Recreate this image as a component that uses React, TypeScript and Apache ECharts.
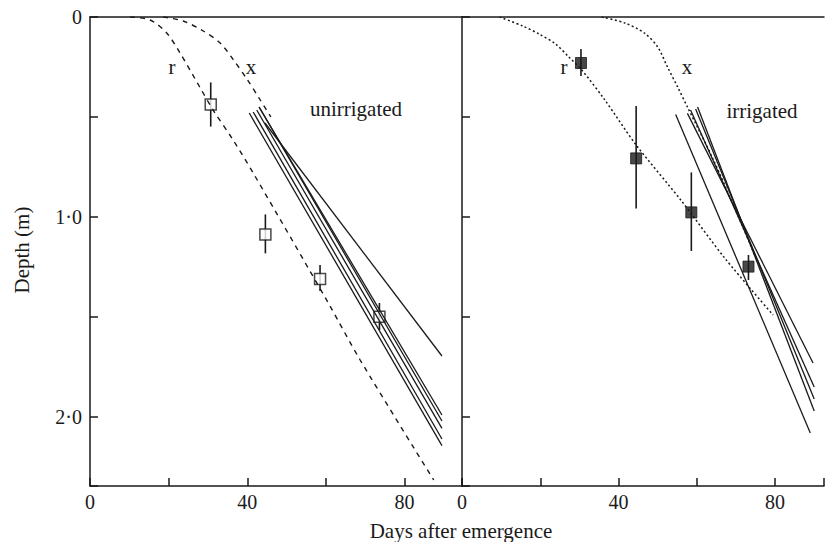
import React, { useEffect, useRef } from 'react';
import * as echarts from 'echarts';

const FONT = '"Liberation Serif", "DejaVu Serif", serif';
const INK = '#1a1a1a';

// tick labels
const xLabelled = [0, 40, 80];
const yLabels: Record<string, string> = { '0': '0', '1': '1·0', '2': '2·0' };

// Unirrigated panel (days after emergence, depth m)
const uRootCurve = [[10.2, 0], [15.3, 0.015], [19.5, 0.08], [22.9, 0.18], [27.9, 0.35], [31.3, 0.465], [36.4, 0.615], [41.5, 0.78], [60.6, 1.43], [68.7, 1.715], [87.4, 2.315]];
const uXCurve = [[18.6, 0], [23.7, 0.02], [28.8, 0.07], [33.1, 0.13], [36.5, 0.215], [39.9, 0.31], [43.3, 0.415], [46, 0.5]];
const uDays = [30.7, 44.6, 58.5, 73.6];
const uDepth = [0.437, 1.087, 1.31, 1.499];
const uLow = [0.327, 0.987, 1.24, 1.43];
const uHigh = [0.548, 1.182, 1.37, 1.565];
const uLines = [
  [[40.5, 0.48], [89.5, 2.143]],
  [[41.5, 0.475], [89.5, 2.11]],
  [[42.4, 0.465], [89.5, 2.057]],
  [[43.0, 0.45], [89.5, 2.02]],
  [[43.0, 0.45], [89.5, 1.99]],
  [[44.5, 0.53], [89.5, 1.695]],
];

// Irrigated panel
const iRootCurve = [[9.6, 0], [15.5, 0.045], [19.7, 0.085], [23.9, 0.135], [27.3, 0.2], [30.6, 0.265], [36.5, 0.415], [44.5, 0.64], [55.9, 0.915], [67.2, 1.207], [79.5, 1.49]];
const iXCurve = [[35.7, 0], [41.6, 0.03], [46.6, 0.08], [50, 0.15], [52.5, 0.25], [55.1, 0.35], [57.6, 0.45], [63.9, 0.7], [71, 1.015], [75, 1.2]];
const iDays = [30.4, 44.5, 58.6, 73.2];
const iDepth = [0.23, 0.707, 0.977, 1.248];
const iLow = [0.16, 0.445, 0.777, 1.19];
const iHigh = [0.295, 0.957, 1.17, 1.315];
const iLines = [
  [[54.6, 0.487], [89, 2.08]],
  [[57.6, 0.482], [89.7, 1.73]],
  [[58.4, 0.465], [90, 1.85]],
  [[59.7, 0.46], [90, 1.91]],
  [[60.2, 0.45], [90, 1.97]],
];

const LEFT_MAX = 94.6;
const RIGHT_MAX = 92.5;
const Y_MAX = 2.345;

function xAxisBottom(gridIndex: number, max: number) {
  return {
    type: 'value', gridIndex, min: 0, max, interval: 20, position: 'bottom',
    axisLine: { show: true, onZero: false, lineStyle: { color: INK, width: 1.5 } },
    axisTick: { show: true, inside: true, length: 8, lineStyle: { color: INK, width: 1.5 } },
    axisLabel: {
      show: true, margin: 6, color: INK, fontFamily: FONT, fontSize: 20,
      formatter: (v: number) => (xLabelled.includes(v) ? String(v) : ''),
    },
    splitLine: { show: false },
  };
}
function xAxisTop(gridIndex: number, max: number) {
  return {
    type: 'value', gridIndex, min: 0, max, position: 'top',
    axisLine: { show: true, onZero: false, lineStyle: { color: INK, width: 1.5 } },
    axisTick: { show: false }, axisLabel: { show: false }, splitLine: { show: false },
  };
}
function yAxis(gridIndex: number, labels: boolean) {
  return {
    type: 'value', gridIndex, min: 0, max: Y_MAX, interval: 0.5, inverse: true,
    axisLine: { show: true, onZero: false, lineStyle: { color: INK, width: 1.5 } },
    axisTick: { show: true, inside: true, length: 8, lineStyle: { color: INK, width: 1.5 } },
    axisLabel: {
      show: labels, margin: 8, color: INK, fontFamily: FONT, fontSize: 20,
      formatter: (v: number) => yLabels[String(v)] ?? '',
    },
    splitLine: { show: false },
  };
}

function errorSeries(axisIdx: number, days: number[], low: number[], high: number[]) {
  return {
    type: 'custom', xAxisIndex: axisIdx * 2, yAxisIndex: axisIdx, z: 2,
    data: days.map((d, i) => [d, low[i], high[i]]),
    encode: { x: 0, y: [1, 2] },
    renderItem: (_p: any, api: any) => {
      const a = api.coord([api.value(0), api.value(1)]);
      const b = api.coord([api.value(0), api.value(2)]);
      return { type: 'line', shape: { x1: a[0], y1: a[1], x2: b[0], y2: b[1] }, style: { stroke: INK, lineWidth: 1.6 } };
    },
  };
}

function lineSeries(axisIdx: number, data: number[][], type: any, smooth: number | boolean, width = 1.4) {
  return {
    type: 'line', xAxisIndex: axisIdx * 2, yAxisIndex: axisIdx, z: 4,
    data, smooth, symbol: 'none', showSymbol: false,
    lineStyle: { color: INK, width, type },
  };
}

export default function App() {
  const ref = useRef<HTMLDivElement>(null);
  useEffect(() => {
    if (!ref.current) return;
    const chart = echarts.init(ref.current, undefined, { renderer: 'svg' });
    const txt = (text: string, x: number, y: number, size = 21, rotation = 0) => ({
      type: 'text', x, y, rotation,
      style: { text, fill: INK, font: `${size}px ${FONT}`, textAlign: 'center', textVerticalAlign: 'middle' },
    });
    chart.setOption({
      animation: false,
      backgroundColor: '#fff',
      grid: [
        { left: 90, top: 17, width: 372, height: 469 },
        { left: 462, top: 17, width: 366, height: 469 },
      ],
      xAxis: [xAxisBottom(0, LEFT_MAX), xAxisTop(0, LEFT_MAX), xAxisBottom(1, RIGHT_MAX), xAxisTop(1, RIGHT_MAX)],
      yAxis: [yAxis(0, true), yAxis(1, false)],
      series: [
        errorSeries(0, uDays, uLow, uHigh),
        {
          type: 'scatter', xAxisIndex: 0, yAxisIndex: 0, z: 3, symbol: 'rect', symbolSize: 11,
          data: uDays.map((d, i) => [d, uDepth[i]]),
          itemStyle: { color: '#fff', borderColor: INK, borderWidth: 1.5 },
        },
        lineSeries(0, uRootCurve, [5, 5], 0.3),
        lineSeries(0, uXCurve, [5, 5], 0.3),
        ...uLines.map((l) => lineSeries(0, l, 'solid', false, 1.3)),
        errorSeries(1, iDays, iLow, iHigh),
        {
          type: 'scatter', xAxisIndex: 2, yAxisIndex: 1, z: 3, symbol: 'rect', symbolSize: 11,
          data: iDays.map((d, i) => [d, iDepth[i]]),
          itemStyle: { color: INK, borderColor: INK, borderWidth: 1 },
        },
        lineSeries(1, iRootCurve, [2, 2.5], 0.3, 1.5),
        lineSeries(1, iXCurve, [2, 2.5], 0.3, 1.5),
        ...iLines.map((l) => lineSeries(1, l, 'solid', false, 1.3)),
      ],
      graphic: [
        txt('r', 172, 67),
        txt('x', 251, 67),
        txt('unirrigated', 356, 109),
        txt('r', 564, 67),
        txt('x', 687, 67),
        txt('irrigated', 762, 111),
        txt('Days after emergence', 461, 531),
        txt('Depth (m)', 22, 250, 21, Math.PI / 2),
      ],
    });
    return () => chart.dispose();
  }, []);
  return <div ref={ref} style={{ position: 'fixed', left: 0, top: 0, width: 827, height: 542 }} />;
}
